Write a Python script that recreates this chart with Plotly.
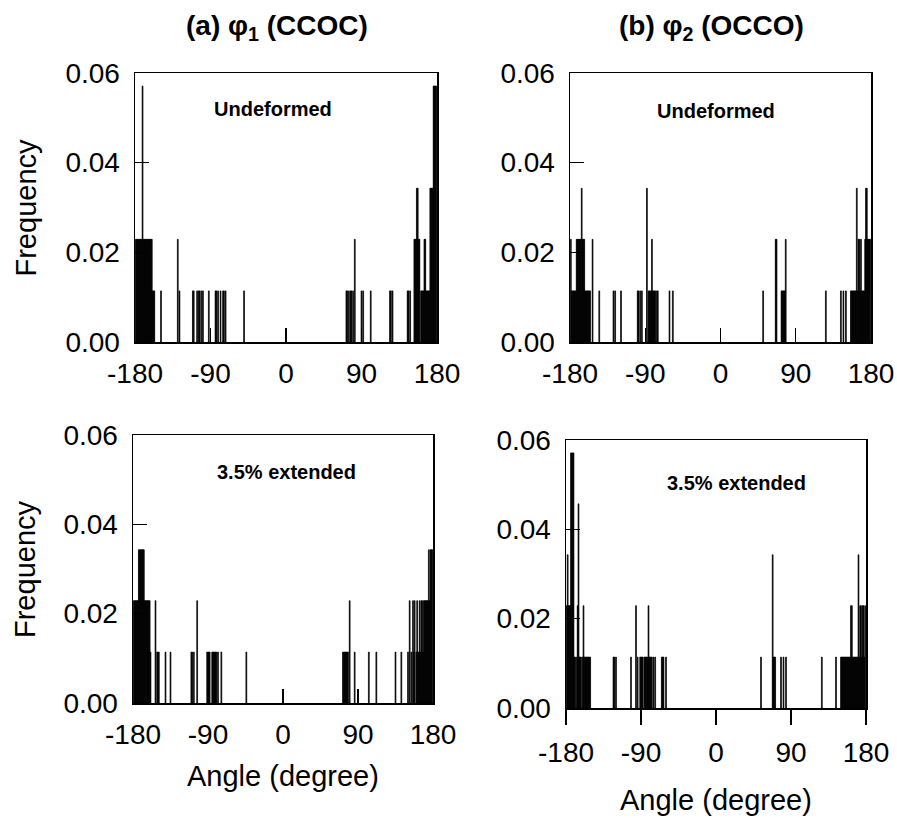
import plotly.graph_objects as go

# ---------------- data (angle in degrees, frequency) ----------------
a1_undef_angle = [-179, -178, -177, -176, -175, -174, -173, -172, -171, -170, -169, -168, -167, -166, -165,
                  -164, -163, -162, -161, -160, -159, -158, -157, -149, -129, -127, -111, -110, -106, -104,
                  -103, -101, -99, -92, -84, -83, -81, -78, -75, -74, -72, -50, 72, 73, 75,
                  77, 78, 80, 82, 90, 92, 101, 124, 125, 127, 145, 146, 148, 153, 154, 155, 156, 157, 158,
                  159, 161, 162, 163, 164, 165, 166, 167, 168, 169, 170, 171, 172, 173, 174, 175, 176, 177,
                  178, 179]
a1_undef_freq = [0.0229, 0.0229, 0.0229, 0.0229, 0.0229, 0.0229, 0.0229, 0.0229, 0.0571, 0.0229, 0.0229,
                 0.0229, 0.0229, 0.0229, 0.0229, 0.0229, 0.0229, 0.0229, 0.0229, 0.0229, 0.0114, 0.0114,
                 0.0114, 0.0114, 0.0229, 0.0114, 0.0114, 0.0114, 0.0114, 0.0114, 0.0114, 0.0114, 0.0114,
                 0.0114, 0.0114, 0.0114, 0.0114, 0.0114, 0.0114, 0.0114, 0.0114, 0.0114,
                 0.0114, 0.0114, 0.0114, 0.0114, 0.0114, 0.0114, 0.0229, 0.0114, 0.0114, 0.0114,
                 0.0114, 0.0114, 0.0114, 0.0114, 0.0114, 0.0114, 0.0229, 0.0229, 0.0229, 0.0343, 0.0343,
                 0.0229, 0.0229, 0.0114, 0.0114, 0.0114, 0.0114, 0.0229, 0.0229, 0.0114, 0.0114, 0.0114,
                 0.0114, 0.0114, 0.0343, 0.0343, 0.0343, 0.0343, 0.0571, 0.0571, 0.0571, 0.0571]

a2_undef_angle = [-179, -178, -177, -176, -175, -174, -173, -172, -171, -170, -169, -168, -167, -166, -165,
                  -164, -163, -162, -161, -160, -159, -158, -157, -156, -153, -145, -128, -126, -119, -99,
                  -98, -96, -94, -88, -86, -85, -84, -83, -82, -81, -80, -79, -78, -76, -75, -61, -57,
                  51, 66, 67, 73, 74, 75, 76, 77, 78, 126, 144, 147, 150, 156, 157, 158, 159, 160,
                  161, 162, 163, 164, 165, 166, 167, 168, 169, 170, 171, 172, 173, 174, 175, 176, 177, 178,
                  179]
a2_undef_freq = [0.0229, 0.0114, 0.0114, 0.0114, 0.0114, 0.0114, 0.0114, 0.0229, 0.0229, 0.0229, 0.0229,
                 0.0229, 0.0229, 0.0343, 0.0229, 0.0229, 0.0229, 0.0114, 0.0114, 0.0114, 0.0114, 0.0114,
                 0.0114, 0.0114, 0.0229, 0.0114, 0.0114, 0.0114, 0.0114, 0.0114, 0.0114, 0.0114, 0.0114,
                 0.0343, 0.0114, 0.0114, 0.0114, 0.0114, 0.0229, 0.0114, 0.0114, 0.0114, 0.0114,
                 0.0114, 0.0114, 0.0114, 0.0114, 0.0114, 0.0229, 0.0229, 0.0114, 0.0114, 0.0114,
                 0.0114, 0.0114, 0.0229, 0.0114, 0.0114, 0.0114, 0.0114, 0.0114, 0.0114, 0.0114,
                 0.0114, 0.0114, 0.0114, 0.0114, 0.0343, 0.0114, 0.0229, 0.0229, 0.0114, 0.0229, 0.0114,
                 0.0114, 0.0114, 0.0114, 0.0229, 0.0343, 0.0343, 0.0229, 0.0229, 0.0229, 0.0229]

a1_ext_angle = [-179, -178, -177, -176, -175, -174, -173, -172, -171, -170, -169, -168, -167, -166, -165,
                -164, -163, -162, -161, -160, -159, -153, -151, -150, -149, -141, -135, -110, -109, -107,
                -103, -91, -90, -89, -88, -85, -84, -83, -82, -81, -80, -78, -74, -44, 72, 73, 74, 75,
                76, 77, 78, 80, 86, 103, 112, 135, 142, 150, 152, 154, 156, 157, 158, 160, 161, 162,
                163, 164, 165, 166, 167, 168, 169, 170, 171, 172, 173, 174, 175, 176, 177, 178, 179]
a1_ext_freq = [0.0229, 0.0229, 0.0229, 0.0229, 0.0229, 0.0229, 0.0343, 0.0343, 0.0343, 0.0343, 0.0343,
               0.0343, 0.0343, 0.0229, 0.0229, 0.0229, 0.0229, 0.0229, 0.0229, 0.0229, 0.0114, 0.0229,
               0.0114, 0.0114, 0.0114, 0.0114, 0.0114, 0.0114, 0.0114, 0.0114, 0.0229, 0.0114, 0.0114,
               0.0114, 0.0114, 0.0114, 0.0114, 0.0114, 0.0114, 0.0114, 0.0114, 0.0114, 0.0114, 0.0114,
               0.0114, 0.0114, 0.0114, 0.0114, 0.0114, 0.0114, 0.0114, 0.0229, 0.0114,
               0.0114, 0.0114, 0.0114, 0.0114, 0.0114, 0.0229, 0.0114, 0.0229, 0.0114, 0.0229, 0.0114,
               0.0229, 0.0114, 0.0114, 0.0229, 0.0114, 0.0229, 0.0229, 0.0114, 0.0229, 0.0229, 0.0229,
               0.0229, 0.0229, 0.0229, 0.0343, 0.0229, 0.0343, 0.0343, 0.0343]

a2_ext_angle = [-179, -178, -177, -176, -175, -174, -173, -172, -171, -170, -169, -167, -166, -165, -164,
                -163, -162, -160, -159, -158, -157, -156, -155, -154, -153, -152, -151, -123, -122, -120,
                -102, -96, -94, -91, -90, -89, -88, -86, -85, -84, -83, -82, -81, -80, -79, -78, -77,
                -75, -73, -65, -64, -63, -60, 54, 68, 69, 70, 71, 78, 81, 84, 127, 144, 150, 151, 152,
                153, 154, 155, 156, 157, 158, 159, 160, 161, 162, 163, 164, 165, 166, 167, 168, 169, 170,
                171, 172, 173, 174, 175, 176, 177, 178, 179]
a2_ext_freq = [0.0229, 0.0343, 0.0229, 0.0229, 0.0229, 0.0571, 0.0571, 0.0571, 0.0571, 0.0114, 0.0114,
               0.0114, 0.0229, 0.0457, 0.0114, 0.0114, 0.0114, 0.0114, 0.0229, 0.0114, 0.0114, 0.0114,
               0.0114, 0.0114, 0.0114, 0.0114, 0.0114, 0.0114, 0.0114, 0.0114, 0.0114, 0.0229, 0.0114,
               0.0114, 0.0114, 0.0114, 0.0114, 0.0114, 0.0114, 0.0114, 0.0114, 0.0114, 0.0229, 0.0114,
               0.0114, 0.0114, 0.0114, 0.0114, 0.0114, 0.0114, 0.0114, 0.0114, 0.0114, 0.0114, 0.0343,
               0.0114, 0.0114, 0.0114, 0.0114, 0.0114, 0.0114, 0.0114, 0.0114, 0.0114, 0.0114, 0.0114,
               0.0114, 0.0114, 0.0114, 0.0114, 0.0114, 0.0114, 0.0114, 0.0114, 0.0114, 0.0229, 0.0229,
               0.0114, 0.0114, 0.0114, 0.0114, 0.0114, 0.0114, 0.0114, 0.0343, 0.0114, 0.0229, 0.0229,
               0.0114, 0.0229, 0.0229, 0.0114, 0.0229]

x_ticks = [-180, -90, 0, 90, 180]
x_tick_labels = ["-180", "-90", "0", "90", "180"]
y_ticks = [0.0, 0.02, 0.04, 0.06]
y_tick_labels = ["0.00", "0.02", "0.04", "0.06"]

column_titles = ["<b>(a) φ<sub>1</sub> (CCOC)</b>", "<b>(b) φ<sub>2</sub> (OCCO)</b>"]
panel_labels = ["<b>Undeformed</b>", "<b>Undeformed</b>", "<b>3.5% extended</b>", "<b>3.5% extended</b>"]

# ---------------- figure ----------------
W, H = 897, 818
FONT = "Liberation Sans, Arial, Helvetica, sans-serif"

def px_x(v):
    return v / W

def px_y(v):
    return 1 - v / H

panels = [
    dict(data=(a1_undef_angle, a1_undef_freq), x=(135, 437), y=(73, 342), xt="inside", label_pos=(-15, 0.052)),
    dict(data=(a2_undef_angle, a2_undef_freq), x=(570, 871), y=(73, 342), xt="inside", label_pos=(-5, 0.0516)),
    dict(data=(a1_ext_angle, a1_ext_freq), x=(133, 433), y=(435, 703), xt="inside", label_pos=(4, 0.0518)),
    dict(data=(a2_ext_angle, a2_ext_freq), x=(566, 866), y=(440, 708), xt="outside", label_pos=(25, 0.0503)),
]

fig = go.Figure()
annotations = []
for i, p in enumerate(panels, start=1):
    sfx = "" if i == 1 else str(i)
    xs, ys = p["data"]
    fig.add_trace(go.Bar(
        x=xs, y=ys, width=1.0,
        marker=dict(color="black", line=dict(color="black", width=0.7)),
        xaxis="x" + sfx, yaxis="y" + sfx, showlegend=False, hoverinfo="skip",
    ))
    fig.layout["xaxis" + sfx] = dict(
        domain=[px_x(p["x"][0]), px_x(p["x"][1])], anchor="y" + sfx,
        range=[-180, 180], tickvals=x_ticks, ticktext=x_tick_labels,
        showline=True, mirror=True, linecolor="black", linewidth=1.5,
        ticks=p["xt"], ticklen=15 if p["xt"] == "outside" else 14, tickwidth=1.3, tickcolor="black",
        showgrid=False, zeroline=False, automargin=False, fixedrange=True,
        ticklabelstandoff=6 if p["xt"] == "inside" else 4,
        tickfont=dict(family=FONT, size=28, color="black"),
    )
    fig.layout["yaxis" + sfx] = dict(
        domain=[px_y(p["y"][1]), px_y(p["y"][0])], anchor="x" + sfx,
        range=[0, 0.06], tickvals=y_ticks, ticktext=y_tick_labels,
        showline=True, mirror=True, linecolor="black", linewidth=1.5,
        ticks="inside", ticklen=14, tickwidth=1.3, tickcolor="black",
        showgrid=False, zeroline=False, automargin=False, fixedrange=True,
        ticklabelstandoff=8,
        tickfont=dict(family=FONT, size=28, color="black"),
    )
    annotations.append(dict(
        text=panel_labels[i - 1], x=p["label_pos"][0], y=p["label_pos"][1],
        xref="x" + sfx, yref="y" + sfx, showarrow=False, xanchor="center", yanchor="middle",
        font=dict(family=FONT, size=20, color="black"),
    ))

def paper_text(text, x, y, size, angle=0):
    return dict(text=text, x=px_x(x), y=px_y(y), xref="paper", yref="paper", showarrow=False,
                xanchor="center", yanchor="middle", textangle=angle,
                font=dict(family=FONT, size=size, color="black"))

annotations.append(paper_text(column_titles[0], 277, 27, 28))
annotations.append(paper_text(column_titles[1], 711, 27, 28))
annotations.append(paper_text("Frequency", 25, (73 + 342) / 2, 29, -90))
annotations.append(paper_text("Frequency", 25, (435 + 703) / 2, 29, -90))
annotations.append(paper_text("Angle (degree)", 283, 776, 29))
annotations.append(paper_text("Angle (degree)", 716, 800, 29))

fig.update_layout(
    template="none",
    width=W, height=H, margin=dict(l=0, r=0, t=0, b=0, autoexpand=False),
    paper_bgcolor="white", plot_bgcolor="white",
    annotations=annotations, bargap=0, hovermode=False,
    font=dict(family=FONT, color="black"),
)

fig.write_html(
    "out.html",
    config={"displayModeBar": False, "staticPlot": True},
    post_script="document.body.style.margin='0px';document.body.style.padding='0px';",
)
